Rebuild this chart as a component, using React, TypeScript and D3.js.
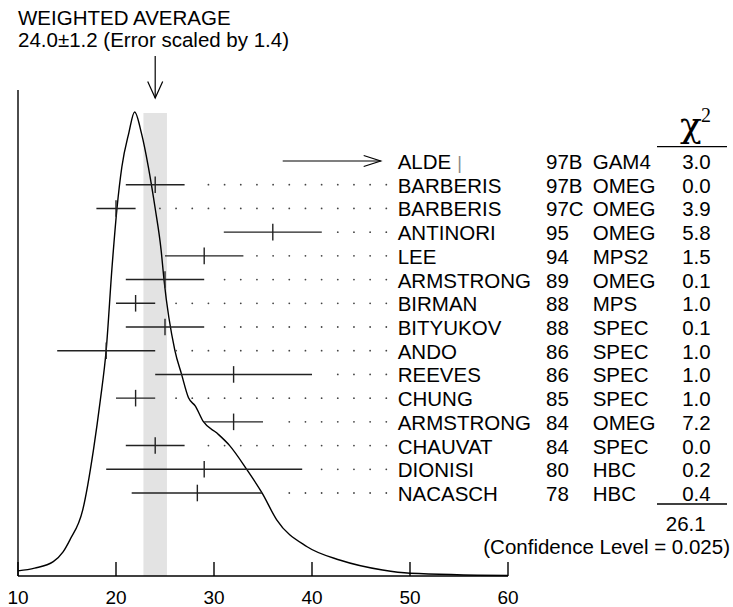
import React from "react";
import * as d3 from "d3";

const names = ["ALDE","BARBERIS","BARBERIS","ANTINORI","LEE","ARMSTRONG","BIRMAN","BITYUKOV","ANDO","REEVES","CHUNG","ARMSTRONG","CHAUVAT","DIONISI","NACASCH"];
const years = ["97B","97B","97C","95","94","89","88","88","86","86","85","84","84","80","78"];
const dets = ["GAM4","OMEG","OMEG","OMEG","MPS2","OMEG","MPS","SPEC","SPEC","SPEC","SPEC","OMEG","SPEC","HBC","HBC"];
const chi2 = ["3.0","0.0","3.9","5.8","1.5","0.1","1.0","0.1","1.0","1.0","1.0","7.2","0.0","0.2","0.4"];
const values: (number | null)[] = [null, 24, 20, 36, 29, 25, 22, 25, 19, 32, 22, 32, 24, 29, 28.3];
const errLo: (number | null)[] = [null, 3, 2, 5, 4, 4, 2, 4, 5, 8, 2, 3, 3, 10, 6.7];
const errHi: (number | null)[] = [null, 3, 2, 5, 4, 4, 2, 4, 5, 8, 2, 3, 3, 10, 6.6];

const xTicks = [10, 20, 30, 40, 50, 60];
const avg = 24.0;
const avgErr = 1.2;
const chi2Total = "26.1";
const confText = "(Confidence Level = 0.025)";

// ideogram curve (value, relative height)
const curveX = [10, 11.7, 13.6, 14.6, 15.3, 16.6, 17.7, 18.4, 19.0, 19.6, 20.1, 20.6, 21.3, 21.9, 22.6, 23.3, 24.0, 24.6, 24.9, 26.0, 26.7, 27.4, 28.1, 28.9, 30.3, 31.6, 33.3, 34.9, 36.4, 39.5, 42.9, 47.2, 50, 60];
const curveY = [0.011, 0.017, 0.031, 0.052, 0.078, 0.142, 0.272, 0.379, 0.487, 0.667, 0.792, 0.882, 0.954, 1.0, 0.954, 0.882, 0.792, 0.703, 0.638, 0.487, 0.434, 0.384, 0.366, 0.333, 0.308, 0.281, 0.231, 0.179, 0.121, 0.063, 0.034, 0.013, 0.006, 0.001];

const FONT = "'Liberation Sans', Arial, Helvetica, sans-serif";
const SERIF = "'DejaVu Serif', 'Liberation Serif', serif";

export default function App() {
  const W = 733, H = 607;
  const x = d3.scaleLinear().domain([10, 60]).range([18, 508]);
  const baseY = 576;
  const y = d3.scaleLinear().domain([0, 1]).range([baseY, 112]);
  const row = d3.scaleLinear().domain([0, names.length - 1]).range([161, 493]);
  const nameX = 397.7, yearX = 546, detX = 592.7, chiRight = 710.7;
  const dotEnd = nameX - 11.4, dotStep = 16.17;
  const fs = 20.5;

  const line = d3.line<number>()
    .x((_, i) => x(curveX[i]))
    .y((d) => y(d))
    .curve(d3.curveMonotoneX);

  const arrowX = x(avg);

  return (
    <svg width={W} height={H} style={{ position: "absolute", left: 0, top: 0, background: "#fff" }}>
      {/* band */}
      <rect x={x(avg - avgErr)} y={113} width={x(avg + avgErr) - x(avg - avgErr)} height={baseY - 113} fill="#e3e3e3" />
      {/* title */}
      <text x={18} y={25} fontFamily={FONT} fontSize={fs} fill="#000">WEIGHTED AVERAGE</text>
      <text x={18} y={47} fontFamily={FONT} fontSize={fs} fill="#000">24.0±1.2 (Error scaled by 1.4)</text>
      {/* average arrow */}
      <g stroke="#000" strokeWidth={1.2} fill="none">
        <line x1={arrowX} x2={arrowX} y1={56} y2={98} />
        <polyline points={`${arrowX - 7.5},${81.5} ${arrowX},${98} ${arrowX + 7.5},${81.5}`} />
      </g>
      {/* axes */}
      <g stroke="#000" strokeWidth={1.4} fill="none">
        <line x1={x(10)} x2={x(10)} y1={90} y2={baseY} />
        <line x1={x(10)} x2={x(60)} y1={baseY} y2={baseY} />
        {xTicks.map((t) => (
          <line key={t} x1={x(t)} x2={x(t)} y1={baseY} y2={baseY - 14} />
        ))}
      </g>
      {xTicks.map((t) => (
        <text key={t} x={x(t)} y={604} textAnchor="middle" fontFamily={FONT} fontSize={19} fill="#000">{t}</text>
      ))}
      {/* curve */}
      <path d={line(curveY) || ""} fill="none" stroke="#000" strokeWidth={1.4} />
      {/* rows */}
      {names.map((n, i) => {
        const ry = row(i);
        const v = values[i];
        const els: React.ReactNode[] = [];
        if (v === null) {
          const a0 = nameX - 115, a1 = nameX - 17;
          els.push(
            <g key="arr" stroke="#000" strokeWidth={1.2} fill="none">
              <line x1={a0} x2={a1} y1={ry} y2={ry} />
              <polyline points={`${a1 - 17},${ry - 5.5} ${a1},${ry} ${a1 - 17},${ry + 5.5}`} />
            </g>
          );
        } else {
          const lo = x(v - (errLo[i] as number));
          const hi = x(v + (errHi[i] as number));
          els.push(
            <g key="eb" stroke="#222" strokeWidth={1.4}>
              <line x1={lo} x2={hi} y1={ry} y2={ry} />
              <line x1={x(v)} x2={x(v)} y1={ry - 8.3} y2={ry + 8.3} />
            </g>
          );
          const dots: number[] = [];
          for (let dx = dotEnd; dx > hi + 12; dx -= dotStep) dots.push(dx);
          dots.forEach((dx, k) => els.push(<circle key={"d" + k} cx={dx} cy={ry} r={0.9} fill="#444" />));
        }
        return (
          <g key={i}>
            {els}
            <text x={nameX} y={ry + 8} fontFamily={FONT} fontSize={fs} fill="#000">
              {n}
              {v === null ? <tspan fill="#888" dx={6} fontSize={18}>|</tspan> : null}
            </text>
            <text x={yearX} y={ry + 8} fontFamily={FONT} fontSize={fs} fill="#000">{years[i]}</text>
            <text x={detX} y={ry + 8} fontFamily={FONT} fontSize={fs} fill="#000">{dets[i]}</text>
            <text x={chiRight} y={ry + 8} textAnchor="end" fontFamily={FONT} fontSize={fs} fill="#000">{chi2[i]}</text>
          </g>
        );
      })}
      {/* chi2 header */}
      <text x={680} y={137} fontFamily={SERIF} fontSize={36} fill="#000">χ</text>
      <text x={701} y={121.5} fontFamily="'Liberation Serif', serif" fontSize={20} fill="#000">2</text>
      <line x1={657} x2={727} y1={146.7} y2={146.7} stroke="#000" strokeWidth={1.3} />
      <line x1={657} x2={727} y1={504} y2={504} stroke="#000" strokeWidth={1.3} />
      <text x={chiRight - 5} y={530.5} textAnchor="end" fontFamily={FONT} fontSize={fs} fill="#000">{chi2Total}</text>
      <text x={730} y={553.8} textAnchor="end" fontFamily={FONT} fontSize={fs} fill="#000">{confText}</text>
    </svg>
  );
}
